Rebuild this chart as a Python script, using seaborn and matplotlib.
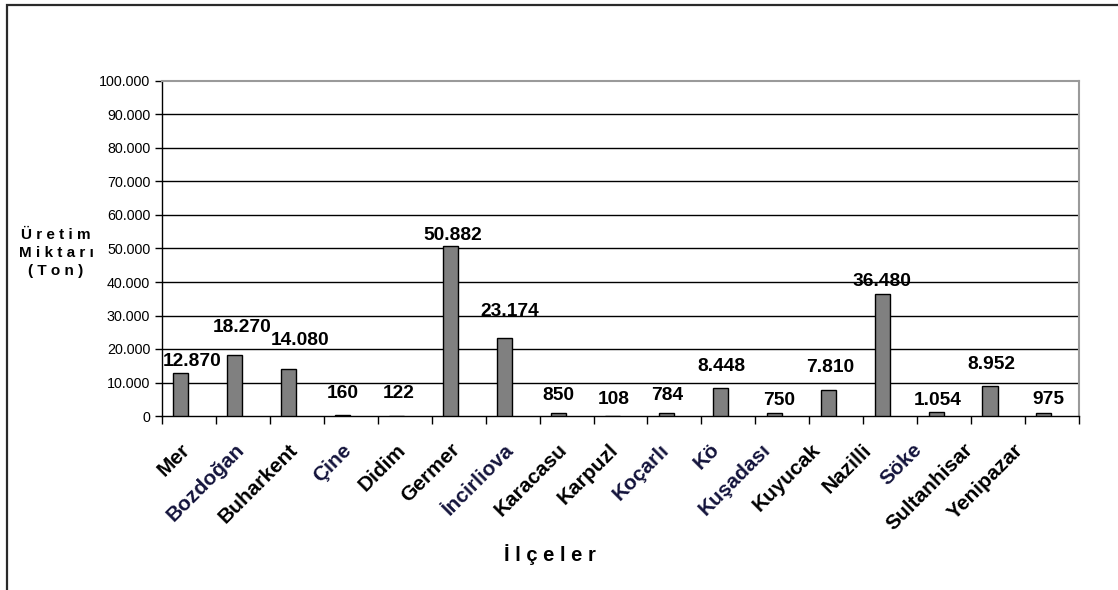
import matplotlib
matplotlib.use("Agg")
import matplotlib.pyplot as plt
from matplotlib.patches import Rectangle
from matplotlib.transforms import ScaledTranslation
from matplotlib.ticker import FuncFormatter, MultipleLocator, FixedLocator
import numpy as np
import seaborn as sns

# District names as they appear on the category axis
districts = ["Mer", "Bozdoğan", "Buharkent", "Çine", "Didim", "Germer",
             "İncirliova", "Karacasu", "Karpuzl", "Koçarlı", "Kö",
             "Kuşadası", "Kuyucak", "Nazilli", "Söke", "Sultanhisar",
             "Yenipazar"]
# Production (tonnes)
production = [12870, 18270, 14080, 160, 122, 50882, 23174, 850, 108, 784,
              8448, 750, 7810, 36480, 1054, 8952, 975]

# Placement of the value labels relative to each bar top (pixels)
label_dx_px = [11, 7, 11, 0, 2, 2, 5, 0, 1, 1, 1, 5, 2, 0, 2, 1, 4]
label_dy_px = [11, 27, 28, 22, 22, 10, 27, 18, 16, 18, 21, 13, 22, 12, 12, 22, 13]
# Names written with Turkish letters are drawn in a dark blue
accent_names = {"Bozdoğan", "Çine", "İncirliova", "Koçarlı", "Kö", "Kuşadası", "Söke"}


def tr_thousands(v, pos=None):
    return f"{int(round(v)):,}".replace(",", ".")


sns.set_theme(style="white")
plt.rcParams["font.family"] = ["Liberation Sans", "DejaVu Sans"]

W, H, DPI = 1118, 590, 100
fig = plt.figure(figsize=(W / DPI, H / DPI), dpi=DPI, facecolor="white")

# plot area in pixels: x 162..1079, y 81..416
ax = fig.add_axes([162 / W, 1 - 416 / H, (1079 - 162) / W, (416 - 81) / H])

sns.barplot(x=districts, y=production, color="#808080", saturation=1,
            edgecolor="black", linewidth=1.0, width=0.28, ax=ax, zorder=3)

# bars sit slightly left of the category centre
bar_shift = -0.15
for p in ax.patches:
    p.set_x(p.get_x() + bar_shift)

ax.set_xlim(-0.5, len(districts) - 0.5)
ax.set_ylim(0, 100000)
ax.yaxis.set_major_locator(MultipleLocator(10000))
ax.yaxis.set_major_formatter(FuncFormatter(tr_thousands))

# grid lines
ax.grid(False)
for gy in range(10000, 100000, 10000):
    ax.axhline(gy, color="black", lw=1.0, zorder=1)

for side in ["top", "right"]:
    ax.spines[side].set_color("#9a9a9a")
    ax.spines[side].set_linewidth(1.5)
for side in ["left", "bottom"]:
    ax.spines[side].set_color("black")
    ax.spines[side].set_linewidth(1.0)

ax.tick_params(axis="y", which="major", left=True, length=5, width=1,
               color="black", pad=3.5, labelsize=10.3, labelcolor="black")
ax.tick_params(axis="x", which="major", bottom=False, length=0, pad=25)
ax.xaxis.set_minor_locator(FixedLocator(np.arange(-0.5, len(districts), 1.0)))
ax.tick_params(axis="x", which="minor", bottom=True, length=6, width=1,
               color="black")

ax.set_xticks(range(len(districts)))
ax.set_xticklabels(districts)
for i, lbl in enumerate(ax.get_xticklabels()):
    name = lbl.get_text()
    lbl.set_rotation(45)
    lbl.set_rotation_mode("anchor")
    lbl.set_horizontalalignment("right")
    lbl.set_verticalalignment("baseline")
    lbl.set_fontsize(15)
    lbl.set_fontweight("bold")
    lbl.set_color("#14143c" if name in accent_names else "black")
    shift = 2 - 3.3 * max(0, i - 7)
    lbl.set_transform(lbl.get_transform() +
                      ScaledTranslation(shift / DPI, 0, fig.dpi_scale_trans))

# value labels
for i, v in enumerate(production):
    ax.annotate(tr_thousands(v), xy=(i + bar_shift, v),
                xytext=(label_dx_px[i] * 72 / DPI, label_dy_px[i] * 72 / DPI),
                textcoords="offset points", ha="center", va="center",
                fontsize=13.8, fontweight="bold", color="black", zorder=4)

ax.set_ylabel("Ü r e t i m\nM i k t a r ı\n( T o n )", rotation=0,
              fontsize=11, fontweight="bold", color="black",
              ha="center", va="center", multialignment="center",
              linespacing=1.35)
ax.yaxis.set_label_coords((56 - 162) / (1079 - 162), (416 - 253) / (416 - 81))
ax.set_xlabel("İ l ç e l e r", fontsize=14.5, fontweight="bold", color="black")
ax.xaxis.set_label_coords((550 - 162) / (1079 - 162), (416 - 555) / (416 - 81))
ax.xaxis.label.set_verticalalignment("center")

# outer chart frame
fig.add_artist(Rectangle((7 / W, -0.1), 1.2, (H - 5) / H + 0.1,
                         transform=fig.transFigure, fill=False,
                         lw=1.6, edgecolor="#2a2a2a"))

fig.savefig("out.png", dpi=DPI, facecolor="white")
